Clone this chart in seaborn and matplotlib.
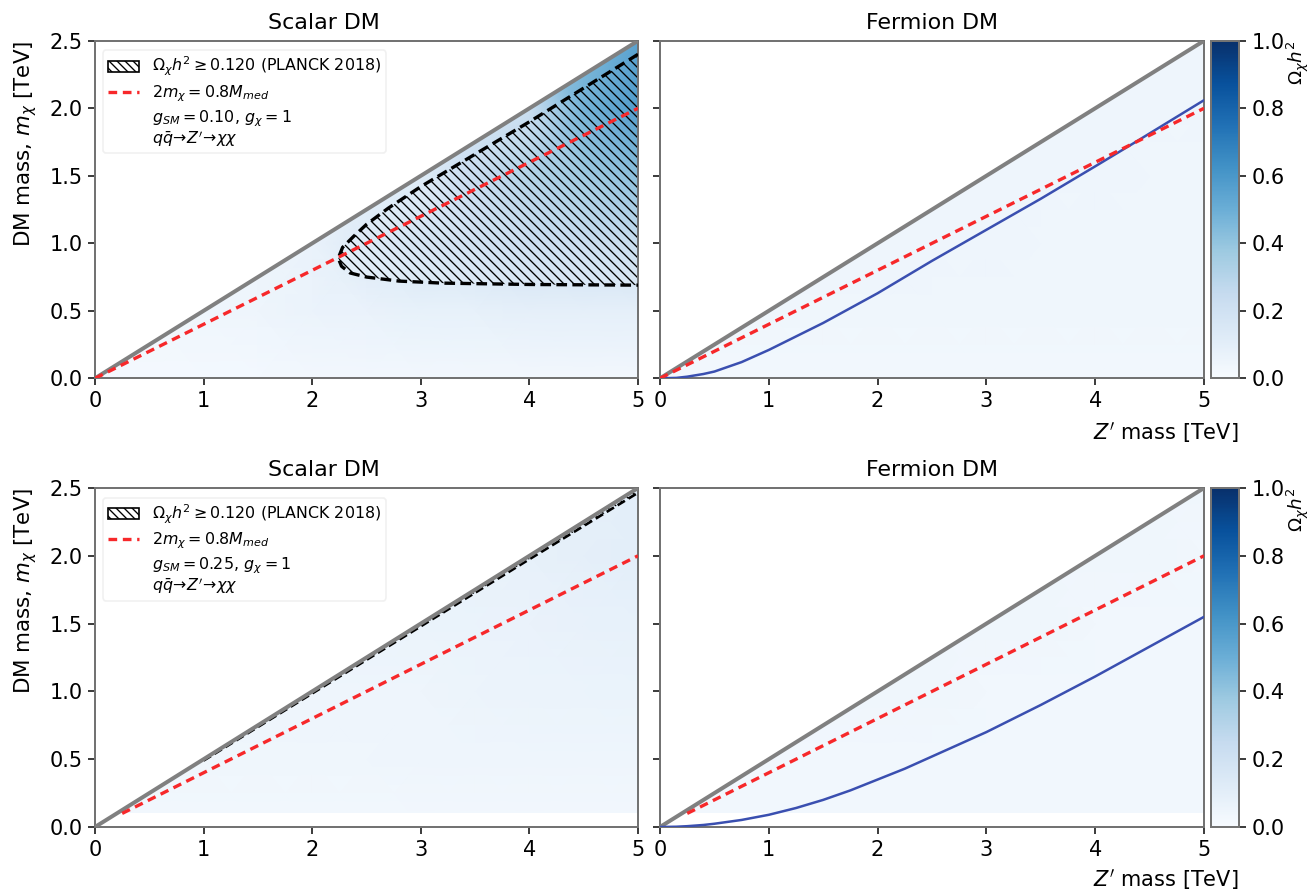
import numpy as np
import matplotlib
matplotlib.use("Agg")
import matplotlib.pyplot as plt
import seaborn as sns
from matplotlib.patches import Polygon, Patch
from matplotlib.lines import Line2D

# ---------------- data ----------------
mmed_grid = [0.0, 0.5, 1.0, 1.5, 2.0, 2.5, 3.0, 3.5, 4.0, 4.5, 5.0]   # Z' mass [TeV]
mdm_grid = [0.0, 0.5, 1.0, 1.5, 2.0, 2.5]                               # DM mass [TeV]

omega_scalar_g010 = [
    [0.02, 0.02, 0.02, 0.02, 0.03, 0.03, 0.03, 0.03, 0.03, 0.03, 0.03],
    [0.03, 0.03, 0.04, 0.05, 0.06, 0.07, 0.08, 0.08, 0.09, 0.09, 0.09],
    [0.04, 0.04, 0.05, 0.05, 0.07, 0.13, 0.17, 0.19, 0.21, 0.22, 0.23],
    [0.08, 0.08, 0.08, 0.08, 0.08, 0.08, 0.12, 0.24, 0.31, 0.37, 0.42],
    [0.15, 0.15, 0.15, 0.15, 0.15, 0.15, 0.15, 0.15, 0.22, 0.48, 0.58],
    [0.45, 0.45, 0.45, 0.45, 0.45, 0.45, 0.45, 0.45, 0.45, 0.45, 0.55],
]
omega_fermion_g010 = [
    [0.03, 0.03, 0.03, 0.03, 0.03, 0.03, 0.03, 0.03, 0.03, 0.03, 0.03],
    [0.04, 0.04, 0.04, 0.04, 0.04, 0.04, 0.04, 0.04, 0.04, 0.04, 0.04],
    [0.05, 0.05, 0.05, 0.05, 0.05, 0.05, 0.045, 0.04, 0.04, 0.04, 0.04],
    [0.05, 0.05, 0.05, 0.05, 0.05, 0.05, 0.05, 0.05, 0.045, 0.04, 0.04],
    [0.05, 0.05, 0.05, 0.05, 0.05, 0.05, 0.05, 0.05, 0.05, 0.045, 0.045],
    [0.05, 0.05, 0.05, 0.05, 0.05, 0.05, 0.05, 0.05, 0.05, 0.05, 0.05],
]
omega_scalar_g025 = [
    [0.03, 0.03, 0.03, 0.03, 0.03, 0.03, 0.03, 0.03, 0.03, 0.03, 0.03],
    [0.04, 0.04, 0.04, 0.04, 0.04, 0.04, 0.045, 0.045, 0.05, 0.05, 0.05],
    [0.05, 0.05, 0.05, 0.05, 0.05, 0.05, 0.05, 0.055, 0.06, 0.06, 0.065],
    [0.06, 0.06, 0.06, 0.06, 0.06, 0.06, 0.06, 0.065, 0.07, 0.075, 0.08],
    [0.08, 0.08, 0.08, 0.08, 0.08, 0.08, 0.08, 0.08, 0.08, 0.09, 0.10],
    [0.10, 0.10, 0.10, 0.10, 0.10, 0.10, 0.10, 0.10, 0.10, 0.10, 0.10],
]
omega_fermion_g025 = [
    [0.035, 0.035, 0.035, 0.035, 0.035, 0.035, 0.035, 0.035, 0.035, 0.035, 0.035],
    [0.035, 0.035, 0.035, 0.035, 0.035, 0.035, 0.035, 0.035, 0.035, 0.035, 0.035],
    [0.04, 0.04, 0.04, 0.04, 0.04, 0.04, 0.035, 0.035, 0.035, 0.035, 0.035],
    [0.04, 0.04, 0.04, 0.04, 0.04, 0.04, 0.04, 0.04, 0.035, 0.035, 0.035],
    [0.04, 0.04, 0.04, 0.04, 0.04, 0.04, 0.04, 0.04, 0.04, 0.04, 0.035],
    [0.04, 0.04, 0.04, 0.04, 0.04, 0.04, 0.04, 0.04, 0.04, 0.04, 0.04],
]
# lower edge of the computed region (DM mass) per panel
region_floor = [0.0, 0.0, 0.1, 0.1]

# kinematic limit m_chi = M_med / 2
diag_mmed = [0.0, 5.0]
diag_mdm = [0.0, 2.5]

# 2 m_chi = 0.8 M_med
red_top_mmed = [0.0, 5.0]
red_top_mdm = [0.0, 2.0]
red_bot_mmed = [0.25, 5.0]
red_bot_mdm = [0.1, 2.0]

# blue curves (fermion panels)
blue_g010_mmed = [0.0, 0.15, 0.25, 0.4, 0.5, 0.75, 1.0, 1.25, 1.5, 1.75, 2.0, 2.5, 3.0, 3.5, 4.0, 4.35, 5.0]
blue_g010_mdm = [0.0, 0.003, 0.012, 0.032, 0.05, 0.12, 0.21, 0.31, 0.41, 0.52, 0.63, 0.87, 1.10, 1.33, 1.57, 1.74, 2.06]
blue_g025_mmed = [0.0, 0.15, 0.25, 0.4, 0.5, 0.75, 1.0, 1.25, 1.5, 1.75, 2.0, 2.25, 2.5, 3.0, 3.5, 4.0, 4.5, 5.0]
blue_g025_mdm = [0.0, 0.002, 0.006, 0.015, 0.024, 0.052, 0.09, 0.14, 0.20, 0.27, 0.35, 0.43, 0.52, 0.70, 0.90, 1.11, 1.33, 1.55]

# Omega h^2 = 0.120 boundary (closed), scalar g_SM = 0.10
planck_g010_mmed = [5.0, 4.5, 4.0, 3.5, 3.0, 2.7, 2.5, 2.38, 2.28, 2.24, 2.27, 2.35, 2.5, 2.8, 3.2, 4.0, 5.0]
planck_g010_mdm = [2.40, 2.15, 1.90, 1.66, 1.42, 1.26, 1.14, 1.05, 0.97, 0.89, 0.83, 0.78, 0.75, 0.72, 0.705, 0.695, 0.69]
# scalar g_SM = 0.25: thin sliver just under the kinematic limit
planck_g025_mmed = [1.0, 2.0, 3.0, 4.0, 5.0]
planck_g025_mdm = [0.49, 0.985, 1.48, 1.975, 2.465]

titles = ["Scalar DM", "Fermion DM", "Scalar DM", "Fermion DM"]
coupling_labels = ["0.10", "0.25"]

# ---------------- style ----------------
sns.set_style("ticks")
plt.rcParams["font.family"] = ["DejaVu Sans"]
plt.rcParams["hatch.linewidth"] = 0.8
plt.rcParams["mathtext.fontset"] = "dejavusans"
plt.rcParams["text.color"] = "black"
plt.rcParams["axes.labelcolor"] = "black"
plt.rcParams["xtick.color"] = "black"
plt.rcParams["ytick.color"] = "black"

W, H, DPI = 1316, 893, 120
fig = plt.figure(figsize=(W / DPI, H / DPI), dpi=DPI)

def px_axes(l, t, r, b):
    return fig.add_axes([l / W, 1 - b / H, (r - l) / W, (b - t) / H])

axes = [
    px_axes(95, 40.8, 638, 378.3),
    px_axes(660, 40.8, 1204, 378.3),
    px_axes(95, 488, 638, 827),
    px_axes(660, 488, 1204, 827),
]
caxes = [px_axes(1211, 40.8, 1239, 378.3), px_axes(1211, 488, 1239, 827)]

grids = [omega_scalar_g010, omega_fermion_g010, omega_scalar_g025, omega_fermion_g025]
SPINE = "0.45"
RED = "#f7282a"
BLUE = "#3a4fb0"
GRAY = "#808080"

X, Y = np.meshgrid(mmed_grid, mdm_grid)
mappables = []
for i, ax in enumerate(axes):
    fl = region_floor[i]
    qm = ax.pcolormesh(X, Y, np.array(grids[i]), shading="gouraud", cmap="Blues",
                       vmin=0, vmax=1, zorder=0, rasterized=True)
    clip = Polygon([(2 * fl, fl), (diag_mmed[1], fl), (diag_mmed[1], diag_mdm[1])],
                   closed=True, transform=ax.transData)
    qm.set_clip_path(clip)
    mappables.append(qm)

    top = i < 2
    if i == 0:
        ax.fill(planck_g010_mmed, planck_g010_mdm, facecolor="none", edgecolor="black",
                hatch="\\\\\\\\", linewidth=0, zorder=2)
        sns.lineplot(x=planck_g010_mmed, y=planck_g010_mdm, sort=False, estimator=None,
                     ax=ax, color="black", linewidth=2.0, zorder=3)
        ax.lines[-1].set_dashes((3.2, 1.6))
    if i == 2:
        px = planck_g025_mmed + planck_g025_mmed[::-1]
        py = planck_g025_mdm + [m / 2 for m in planck_g025_mmed[::-1]]
        ax.fill(px, py, facecolor="none", edgecolor="black", hatch="\\\\\\\\",
                linewidth=0, zorder=2)
        sns.lineplot(x=planck_g025_mmed, y=planck_g025_mdm, sort=False, estimator=None,
                     ax=ax, color="black", linewidth=1.6, zorder=3)
        ax.lines[-1].set_dashes((3.2, 1.6))

    sns.lineplot(x=diag_mmed, y=diag_mdm, ax=ax, color=GRAY, linewidth=2.4, zorder=4)
    rx, ry = (red_top_mmed, red_top_mdm) if top else (red_bot_mmed, red_bot_mdm)
    sns.lineplot(x=rx, y=ry, ax=ax, color=RED, linewidth=2.0, zorder=5)
    ax.lines[-1].set_dashes((2.6, 1.7))
    if i == 1:
        sns.lineplot(x=blue_g010_mmed, y=blue_g010_mdm, ax=ax, color=BLUE, linewidth=1.5, zorder=4)
    if i == 3:
        sns.lineplot(x=blue_g025_mmed, y=blue_g025_mdm, ax=ax, color=BLUE, linewidth=1.5, zorder=4)

    ax.set_xlim(0, 5)
    ax.set_ylim(0, 2.5)
    ax.set_xticks([0, 1, 2, 3, 4, 5])
    ax.set_yticks([0.0, 0.5, 1.0, 1.5, 2.0, 2.5])
    ax.set_title(titles[i], fontsize=13.3, pad=7, x=(324 - 95) / 543 if i % 2 == 0 else 0.5)
    ax.tick_params(labelsize=12.5, length=4, width=0.9, color="black")
    for s in ax.spines.values():
        s.set_color(SPINE)
        s.set_linewidth(1.2)
        s.set_visible(True)
    ax.set_xlabel("")
    ax.set_ylabel("")
    if i % 2 == 0:
        ax.set_ylabel(r"DM mass, $m_\chi$ [TeV]", fontsize=12.8, labelpad=6, loc="top")
        ax.set_yticklabels(["0.0", "0.5", "1.0", "1.5", "2.0", "2.5"])
    else:
        ax.set_yticklabels([])

    if i % 2 == 0:
        g = coupling_labels[i // 2]
        handles = [
            Patch(facecolor="white", edgecolor="black", hatch="\\\\\\\\\\",
                  label=r"$\Omega_\chi h^2 \geq 0.120$ (PLANCK 2018)"),
            Line2D([], [], color=RED, linestyle=(0, (2.6, 1.7)), linewidth=2.0,
                   label=r"$2m_\chi = 0.8M_{med}$"),
            Line2D([], [], color="none",
                   label=r"$g_{SM} = $" + g + r"$,\,g_\chi = 1$" + "\n"
                         + r"$q\bar{q}\!\rightarrow\! Z^{\prime}\!\rightarrow\!\chi\chi$"),
        ]
        leg = ax.legend(handles=handles, loc="upper left", fontsize=9.5, frameon=True,
                        framealpha=0.8, edgecolor="0.93", handlelength=2.0,
                        borderpad=0.3, labelspacing=0.3, bbox_to_anchor=(0.0, 0.995))
        leg.get_texts()[-1].set_linespacing(0.95)

for j, cax in enumerate(caxes):
    cb = fig.colorbar(mappables[2 * j], cax=cax)
    cb.set_ticks([0.0, 0.2, 0.4, 0.6, 0.8, 1.0])
    cb.ax.tick_params(labelsize=12.5, length=4, width=0.9)
    cb.outline.set_edgecolor(SPINE)
    cb.outline.set_linewidth(1.2)
    cb.set_label(r"$\Omega_\chi h^2$", loc="top", fontsize=11, labelpad=0)

fig.text(1238 / W, 1 - 433 / H, r"$Z^{\prime}$ mass [TeV]", ha="right", va="center", fontsize=12.5)
fig.text(1238 / W, 1 - 880 / H, r"$Z^{\prime}$ mass [TeV]", ha="right", va="center", fontsize=12.5)

fig.savefig("out.png", dpi=DPI, facecolor="white")
